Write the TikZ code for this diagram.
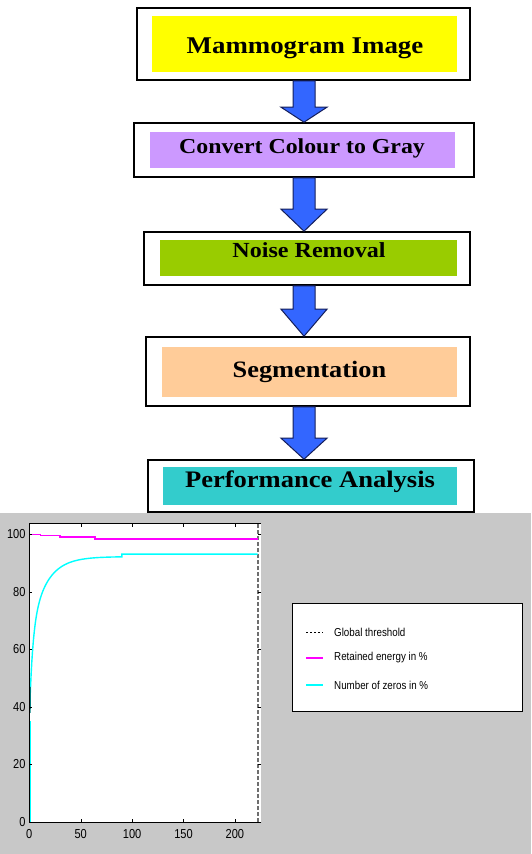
\documentclass[tikz,border=0pt]{standalone}
\usepackage{fontspec}
\setmainfont{Liberation Serif}
\newfontfamily\boxfont{Liberation Serif}[FakeStretch=1.12]
\newfontfamily\plotfont{Liberation Sans}[FakeStretch=0.85]
\usetikzlibrary{calc}

\definecolor{arrowblue}{RGB}{51,102,255}
\definecolor{arrowline}{RGB}{20,30,90}
\definecolor{fillyellow}{RGB}{255,255,0}
\definecolor{fillviolet}{RGB}{204,153,255}
\definecolor{fillgreen}{RGB}{153,204,0}
\definecolor{fillpeach}{RGB}{255,204,153}
\definecolor{fillteal}{RGB}{51,204,204}
\definecolor{figgray}{RGB}{200,200,200}
\definecolor{energy}{RGB}{255,0,255}
\definecolor{zeros}{RGB}{0,255,255}
\definecolor{thresh}{RGB}{110,110,110}

\tikzset{
  boxframe/.style={draw=black, line width=1.6pt, fill=white, inner sep=0pt},
  boxfill/.style={inner sep=0pt},
  boxtitle/.style={anchor=base, inner sep=0pt, font=\boxfont\bfseries\fontsize{#1}{#1}\selectfont},
  flowarrow/.style={fill=arrowblue, draw=arrowline, line width=1pt, line join=miter},
  ticklabel/.style={inner sep=0pt, font=\plotfont\fontsize{13}{13}\selectfont},
  legendtext/.style={anchor=west, inner sep=0pt, font=\plotfont\fontsize{11.5}{12}\selectfont}
}

% block arrow from one box down to the next, #3 = head length
\newcommand{\flowstep}[3]{%
  \draw[flowarrow] let \p1=(#1.south -| ax), \p2=(#2.north -| ax) in
    (\x1-11pt,\y1) -- (\x1+11pt,\y1) -- (\x1+11pt,\y2+#3pt) -- (\x1+23pt,\y2+#3pt)
    -- (\x2,\y2) -- (\x1-23pt,\y2+#3pt) -- (\x1-11pt,\y2+#3pt) -- cycle;}

\begin{document}
\begin{tikzpicture}[x=1pt, y=-1pt]
    \useasboundingbox (0,0) rectangle (531,854);
    \coordinate (ax) at (304,0);

    % Flow chart boxes
    \node[boxframe, minimum width=333pt, minimum height=72pt] (b1) at (303.5,44) {};
    \node[boxfill, fill=fillyellow, minimum width=305pt, minimum height=56pt] (f1) at (304.5,44) {};
    \node[boxtitle=24] (t1) at (305,53) {Mammogram Image};

    \node[boxframe, minimum width=340pt, minimum height=54pt] (b2) at (304,150) {};
    \node[boxfill, fill=fillviolet, minimum width=305pt, minimum height=36pt] (f2) at (302.5,150) {};
    \node[boxtitle=21.3] (t2) at (302,153) {Convert Colour to Gray};

    \node[boxframe, minimum width=326pt, minimum height=53pt] (b3) at (307,258.5) {};
    \node[boxfill, fill=fillgreen, minimum width=297pt, minimum height=36pt] (f3) at (308.5,258) {};
    \node[boxtitle=21.5] (t3) at (309,257) {Noise Removal};

    \node[boxframe, minimum width=324pt, minimum height=69pt] (b4) at (308,371.5) {};
    \node[boxfill, fill=fillpeach, minimum width=295pt, minimum height=50pt] (f4) at (309.5,372) {};
    \node[boxtitle=23.5] (t4) at (309.5,377) {Segmentation};

    \node[boxframe, minimum width=326pt, minimum height=52pt] (b5) at (311,486) {};
    \node[boxfill, fill=fillteal, minimum width=294pt, minimum height=38pt] (f5) at (310,486) {};
    \node[boxtitle=23.7] (t5) at (310,487) {Performance Analysis};

    % Arrows between the boxes
    \flowstep{b1}{b2}{15}
    \flowstep{b2}{b3}{22}
    \flowstep{b3}{b4}{27}
    \flowstep{b4}{b5}{21}

    % Plot window
    \fill[figgray] (0,513) rectangle (531,854);

    \begin{scope}[shift={(29.3,822)}, x=1.028pt, y=2.875pt]
        \fill[white] (0,0) rectangle (225.4,103.7);
        \draw[thresh, line width=1.6pt, dash pattern=on 4pt off 2pt] (222.5,0) -- (222.5,103.7);
        \draw[zeros, line width=1.4pt] (0.6,0) -- (0.6,35.3);
        \draw[zeros, line width=1.4pt] plot[domain=0.6:90, samples=150]
            (\x,{92.3-29*exp(-\x/3)-28*exp(-\x/15)}) -- (90,93.2) -- (222,93.2);
        \draw[teal, line width=1.4pt] (0.7,38) -- (0.9,47);
        \draw[energy, line width=1.4pt] (0,100) -- (11,100) -- (11,99.6) -- (30,99.6) -- (30,99.1)
            -- (64,99.1) -- (64,98.5) -- (222,98.5);
        \draw[line width=1pt] (225.4,0) -- (0,0) -- (0,103.7) -- (225.4,103.7);
        \foreach \t in {0,50,...,200} {
            \draw (\t,0) -- ++(0,1.1);
            \draw (\t,103.7) -- ++(0,-1.1);
            \node[ticklabel, anchor=north] (xl\t) at (\t,-2.5) {\t};
        }
        \foreach \t in {0,20,...,100} {
            \draw (0,\t) -- ++(3,0);
            \draw (225.4,\t) -- ++(-3,0);
            \node[ticklabel, anchor=east] (yl\t) at (-3.5,\t) {\t};
        }
    \end{scope}

    % Legend
    \draw[fill=white, line width=0.9pt] (292,603) rectangle (522,711);
    \coordinate (g1) at (306,632);
    \coordinate (g2) at (306,658);
    \coordinate (g3) at (306,685);
    \draw[black, line width=0.8pt, dash pattern=on 2pt off 2pt] (g1) -- ++(17,0);
    \draw[energy, line width=1.3pt] (g2) -- ++(17,0);
    \draw[zeros, line width=1.3pt] (g3) -- ++(17,0);
    \node[legendtext] (l1) at (334,632) {Global threshold};
    \node[legendtext] (l2) at (334,658) {Retained energy in \%};
    \node[legendtext] (l3) at (334,685) {Number of zeros in \%};
\end{tikzpicture}
\end{document}
